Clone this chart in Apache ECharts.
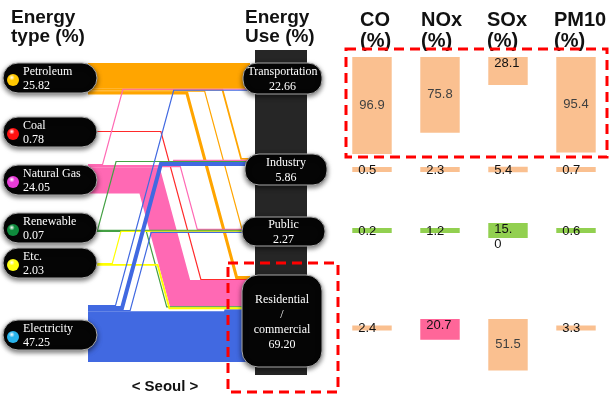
<!DOCTYPE html>
<html>
<head>
<meta charset="utf-8">
<script src="https://cdn.jsdelivr.net/npm/echarts@6/dist/echarts.min.js"></script>
<style>
  html, body { margin: 0; padding: 0; background: #fff; }
  #main { width: 610px; height: 399px; }
</style>
</head>
<body>
<div id="main"></div>
<script>
// energy type (left) -> energy use (right), shares in %
const sources = ['Petroleum', 'Coal', 'Natural Gas', 'Renewable', 'Etc.', 'Electricity'];
const sourceShares = [25.82, 0.78, 24.05, 0.07, 2.03, 47.25];
const uses = ['Transportation', 'Industry', 'Public', 'Residential\n/\ncommercial'];
const useShares = [22.66, 5.86, 2.27, 69.20];

// [source, use, share %]
const flows = [
  [0, 0, 21.49], [0, 1, 1.5], [0, 2, 0.3], [0, 3, 2.53],
  [1, 3, 0.78],
  [2, 0, 0.61], [2, 1, 1.0], [2, 2, 0.45], [2, 3, 21.99],
  [3, 1, 0.03], [3, 2, 0.02], [3, 3, 0.02],
  [4, 2, 0.5], [4, 3, 1.53],
  [5, 0, 0.56], [5, 1, 3.33], [5, 2, 1.0], [5, 3, 42.36]
];

// emission shares per use (rows follow `uses`)
const pollutants = ['CO', 'NOx', 'SOx', 'PM10'];
const coShares = [96.9, 0.5, 0.2, 2.4];
const noxShares = [75.8, 2.3, 1.2, 20.7];
const soxShares = [28.1, 5.4, 15.0, 51.5];
const pm10Shares = [95.4, 0.7, 0.6, 3.3];

// ---- layout / style ----
const FLOW_COLORS = ['#FFA500', '#FF2A2A', '#FF69B4', '#44A044', '#FFFF00', '#4169E1'];
const BALL_COLORS = ['#FFC800', '#FF1010', '#E83CD8', '#0E8A3C', '#FFFF10', '#28B4EC'];
const SRC_PILL_TOP = [63, 117, 165, 213, 248, 320];
const USE_PILLS = [[243, 63, 79, 31], [245, 154, 82, 31], [242, 217, 83, 29], [242, 275, 80, 92]];
// band tops on the flow axis (1 unit = 1.2px)
const SRC_TOP = [52.5, 109.2, 136.7, 190.8, 219.2, 254.2];
const USE_TOP = [52.5, 131.7, 190, 230];
// where each flow leaves its row (fraction of flow area width)
const BEND = [0.69, 0.83, 0.72, 0.61, 0.45, 0.09, 0.52, 0.57, 0.38, 0.06, 0.38, 0.36, 0.15, 0.43, 0.17, 0.21, 0.26, 0.96];
const MIN_STEP = 0.8;
const ROW_MID = [66, 169.5, 230.5, 328];

const srcUsed = SRC_TOP.slice();
const useUsed = USE_TOP.slice();
const flowGeo = flows.map(([s, t, v], i) => {
  const step = Math.max(v, MIN_STEP);
  const g = { s, v, step, y0: srcUsed[s], y1: useUsed[t], bend: BEND[i] };
  srcUsed[s] += step;
  useUsed[t] += step;
  return g;
});

const shareCols = [coShares, noxShares, soxShares, pm10Shares];
const barData = [];
shareCols.forEach((col, p) => col.forEach((v, r) => barData.push([p, r, v])));

function renderFlow(params, api) {
  const g = flowGeo[params.dataIndex];
  const xa = api.coord([0, 0])[0];
  const xb = api.coord([1, 0])[0];
  const bx = api.coord([g.bend, 0])[0];
  const ys = api.coord([0, g.y0 + g.step / 2])[1];
  const yt = api.coord([0, g.y1 + g.step / 2])[1];
  const w = api.size([0, g.v])[1];
  const run = Math.abs(yt - ys) * 0.27;
  return {
    type: 'polyline',
    z2: g.v > 5 ? 1 : 2,
    shape: { points: [[xa, ys], [bx, ys], [bx + run, yt], [xb, yt]] },
    style: { stroke: FLOW_COLORS[g.s], lineWidth: Math.max(w, 1.2), fill: null, lineJoin: 'miter' }
  };
}

function renderBar(params, api) {
  const p = api.value(0), r = api.value(1), v = api.value(2);
  const cx = api.coord([p, 0])[0];
  const bw = api.size([1, 0])[0] * 0.58;
  const h = Math.max(api.size([0, v])[1], 5);
  const mid = api.coord([0, ROW_MID[r]])[1];
  const top = mid - Math.min(h, 18) / 2;
  let color = '#FAC090';
  if (r === 2) color = '#92D050';
  if (p === 1 && r === 3) color = '#FF6699';
  const txt = v.toFixed(1);
  let label;
  if (h > 40) {
    label = { text: txt, x: cx, y: top + h / 2, align: 'center', verticalAlign: 'middle',
      fill: '#404040', font: '13px "Liberation Sans"' };
  } else {
    label = { text: txt, x: cx - bw / 2 + 6, y: top + Math.min(h / 2, 6) - 7, align: 'left', verticalAlign: 'top',
      fill: '#111', font: '13px "Liberation Sans"', lineHeight: 15 };
    if (r === 2) { label.width = 24; label.overflow = 'breakAll'; }
  }
  return {
    type: 'group',
    children: [
      { type: 'rect', shape: { x: cx - bw / 2, y: top, width: bw, height: h }, style: { fill: color } },
      { type: 'text', style: label }
    ]
  };
}

function pillRect(x, y, w, h, r) {
  return {
    type: 'rect', z: 10,
    shape: { x, y, width: w, height: h, r },
    style: { fill: '#050505', stroke: '#a8a8a8', lineWidth: 1, shadowBlur: 5, shadowColor: 'rgba(0,0,0,0.55)', shadowOffsetY: 2 }
  };
}
function pillText(text, x, y, align, lh) {
  return {
    type: 'text', z: 11, x, y,
    style: { text, fill: '#fff', font: '12px "Liberation Serif"', align, verticalAlign: 'middle', lineHeight: lh || 14 }
  };
}

const graphics = [];
graphics.push({ type: 'rect', z: 9, shape: { x: 255, y: 50, width: 52, height: 325 }, style: { fill: '#262626' } });
sources.forEach((name, i) => {
  const y = SRC_PILL_TOP[i];
  graphics.push(pillRect(3, y, 94, 30, 15));
  graphics.push({
    type: 'circle', z: 11,
    shape: { cx: 13, cy: y + 17, r: 6 },
    style: {
      fill: new echarts.graphic.RadialGradient(0.4, 0.3, 0.7, [
        { offset: 0, color: '#ffffff' },
        { offset: 0.35, color: BALL_COLORS[i] },
        { offset: 1, color: BALL_COLORS[i] }
      ])
    }
  });
  graphics.push(pillText(name, 23, y + 9, 'left'));
  graphics.push(pillText(sourceShares[i].toFixed(2), 23, y + 23, 'left'));
});
uses.forEach((name, i) => {
  const [x, y, w, h] = USE_PILLS[i];
  graphics.push(pillRect(x, y, w, h, i === 3 ? 16 : 14));
  const cx = x + w / 2;
  if (i === 3) {
    graphics.push(pillText(name + '\n' + useShares[i].toFixed(2), cx, y + h / 2 + 1, 'center', 15));
  } else {
    graphics.push(pillText(name, cx, y + h / 2 - 7, 'center'));
    graphics.push(pillText(useShares[i].toFixed(2), cx, y + h / 2 + 8, 'center'));
  }
});
graphics.push({
  type: 'rect', z: 12, shape: { x: 346, y: 49, width: 261, height: 108 },
  style: { fill: null, stroke: '#FF0000', lineWidth: 3, lineDash: [10, 6] }
});
graphics.push({
  type: 'rect', z: 12, shape: { x: 228, y: 263, width: 110, height: 129 },
  style: { fill: null, stroke: '#FF0000', lineWidth: 3, lineDash: [10, 6] }
});
graphics.push({
  type: 'text', z: 12, x: 165, y: 387,
  style: { text: '< Seoul >', fill: '#111', font: 'bold 15px "Liberation Sans"', align: 'center', verticalAlign: 'middle' }
});

const headStyle = { fontSize: 20, fontWeight: 'bold', fontFamily: 'Liberation Sans', lineHeight: 21, color: '#111' };
const chart = echarts.init(document.getElementById('main'));
chart.setOption({
  animation: false,
  title: [
    { text: 'Energy\ntype (%)', left: 11, top: 8, padding: 0, textStyle: Object.assign({}, headStyle, { fontSize: 19, lineHeight: 19 }) },
    { text: 'Energy\nUse (%)', left: 245, top: 8, padding: 0, textStyle: Object.assign({}, headStyle, { fontSize: 19, lineHeight: 19 }) }
  ].concat(pollutants.map((p, i) => ({
    text: p + '\n(%)', left: [360, 421, 487, 554][i], top: 10, padding: 0, textStyle: headStyle
  }))),
  grid: [
    { left: 88, top: 0, width: 162, height: 399 },
    { left: 338, top: 0, width: 275, height: 399 }
  ],
  xAxis: [
    { type: 'value', gridIndex: 0, min: 0, max: 1, show: false },
    { type: 'category', gridIndex: 1, data: pollutants, show: false }
  ],
  yAxis: [
    { type: 'value', gridIndex: 0, min: 0, max: 332.5, inverse: true, show: false },
    { type: 'value', gridIndex: 1, min: 0, max: 399, inverse: true, show: false }
  ],
  graphic: graphics,
  series: [
    {
      type: 'custom', name: 'flows', xAxisIndex: 0, yAxisIndex: 0,
      renderItem: renderFlow, data: flows, encode: { x: 0, y: 2 }, silent: true
    },
    {
      type: 'custom', name: 'emissions', xAxisIndex: 1, yAxisIndex: 1,
      renderItem: renderBar, data: barData, encode: { x: 0, y: 1 }, silent: true
    }
  ]
});
</script>
</body>
</html>
